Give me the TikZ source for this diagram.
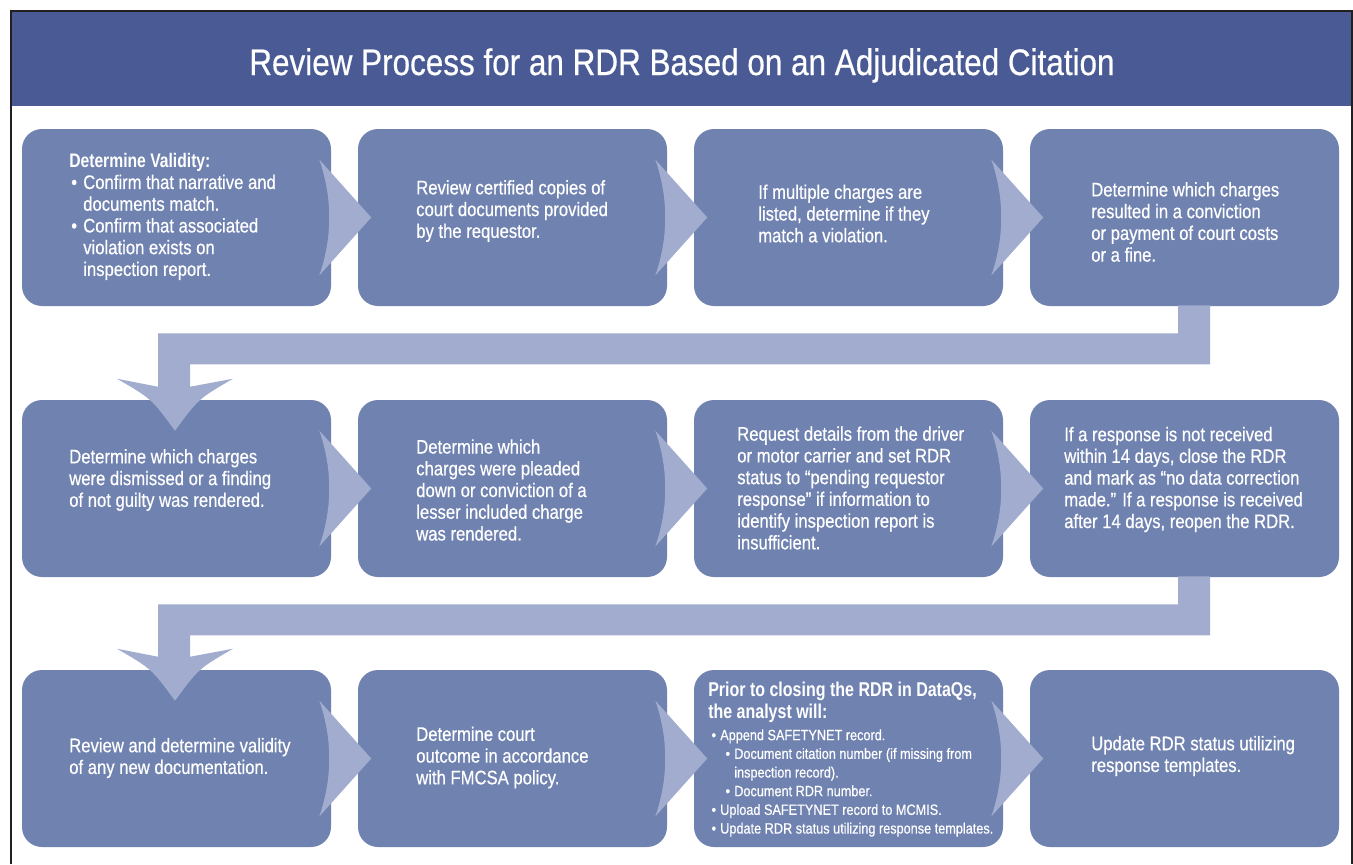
\documentclass[tikz,border=0pt]{standalone}
\usepackage{fontspec}
\setmainfont{Liberation Sans}[FakeStretch=0.85, FakeBold=0.5]
\newfontfamily\headfont{Liberation Sans}[FakeStretch=0.80]
\usetikzlibrary{calc}

\definecolor{barblue}{HTML}{4A5A94}
\definecolor{boxblue}{HTML}{7082B0}
\definecolor{flowblue}{HTML}{A1ACCE}
\definecolor{frameink}{HTML}{231F20}

% chevron pointing from a box into its right-hand neighbour
\newcommand{\flowchevron}[1]{%
  \fill[flowblue] ($(#1.east)+(-12,-58)$) -- ($(#1.east)+(40,0)$) -- ($(#1.east)+(-12,58)$)
    .. controls ($(#1.east)+(1.3,20)$) and ($(#1.east)+(1.3,-20)$) .. ($(#1.east)+(-12,-58)$) -- cycle;}

% elbow connector from the bottom of one box to the top of a box on the next row
\newcommand{\flowdown}[2]{%
  \coordinate (S) at (#1.south);
  \coordinate (T) at (#2.north);
  \coordinate (H) at (T |- S);
  \fill[flowblue] ($(S)+(-6.5,-1)$) -- ($(S)+(25.5,-1)$) -- ($(S)+(25.5,58)$)
    -- ($(H)+(13.5,58)$) -- ($(T)+(13.5,-13)$) -- ($(T)+(56.5,-21)$)
    .. controls ($(T)+(22,-1)$) .. ($(T)+(-1.5,31)$)
    .. controls ($(T)+(-25,-1)$) .. ($(T)+(-59.5,-21)$)
    -- ($(T)+(-18.5,-13)$) -- ($(H)+(-18.5,27)$) -- ($(S)+(-6.5,27)$) -- cycle;}

\begin{document}
\begin{tikzpicture}[x=0.75pt,y=-0.75pt,
  stepbox/.style={fill=boxblue, draw=none, rounded corners=15pt,
    minimum width=231.75pt, minimum height=132.75pt, inner sep=0pt},
  steptext/.style={anchor=west, align=left, text=white, inner sep=0pt,
    font=\fontsize{14.7pt}{16.3pt}\selectfont},
  smalltext/.style={anchor=west, align=left, text=white, inner sep=0pt,
    font=\fontsize{11.2pt}{14pt}\selectfont},
  headtext/.style={anchor=west, align=left, text=white, inner sep=0pt,
    font=\headfont\bfseries\fontsize{15pt}{16.5pt}\selectfont}
]
\useasboundingbox (0,0) rectangle (1353,864);

% title bar and frame
\fill[barblue] (11,11) rectangle (1352,106);
\draw[frameink, line width=1.5pt] (11,864) -- (11,11) -- (1352,11) -- (1352,864);
\node[anchor=base, text=white, inner sep=0pt, font=\fontsize{27.75pt}{30pt}\selectfont]
  (title) at (682,75) {Review Process for an RDR Based on an Adjudicated Citation};

% step boxes
\node[stepbox] (s1)  at (176.5,217.5) {};
\node[stepbox] (s2)  at (512.5,217.5) {};
\node[stepbox] (s3)  at (848.5,217.5) {};
\node[stepbox] (s4)  at (1184.5,217.5) {};
\node[stepbox] (s5)  at (176.5,488.5) {};
\node[stepbox] (s6)  at (512.5,488.5) {};
\node[stepbox] (s7)  at (848.5,488.5) {};
\node[stepbox] (s8)  at (1184.5,488.5) {};
\node[stepbox] (s9)  at (176.5,758.5) {};
\node[stepbox] (s10) at (512.5,758.5) {};
\node[stepbox] (s11) at (848.5,758.5) {};
\node[stepbox] (s12) at (1184.5,758.5) {};

% connectors
\flowchevron{s1}\flowchevron{s2}\flowchevron{s3}
\flowchevron{s5}\flowchevron{s6}\flowchevron{s7}
\flowchevron{s9}\flowchevron{s10}\flowchevron{s11}
\flowdown{s4}{s5}
\flowdown{s8}{s9}

% texts
\node[steptext] (t1) at (69,216.5) {{\headfont\bfseries Determine Validity:}\\
  \hspace*{1.5pt}\makebox[9pt][l]{•}Confirm that narrative and\\
  \hspace*{10.5pt}documents match.\\
  \hspace*{1.5pt}\makebox[9pt][l]{•}Confirm that associated\\
  \hspace*{10.5pt}violation exists on\\
  \hspace*{10.5pt}inspection report.};
\node[steptext] (t2) at (416,211) {Review certified copies of\\court documents provided\\by the requestor.};
\node[steptext] (t3) at (758,213.5) {If multiple charges are\\listed, determine if they\\match a violation.};
\node[steptext] (t4) at (1091,222) {Determine which charges\\resulted in a conviction\\or payment of court costs\\or a fine.};
\node[steptext] (t5) at (69,480) {Determine which charges\\were dismissed or a finding\\of not guilty was rendered.};
\node[steptext] (t6) at (416,490) {Determine which\\charges were pleaded\\down or conviction of a\\lesser included charge\\was rendered.};
\node[steptext] (t7) at (737,488) {Request details from the driver\\or motor carrier and set RDR\\status to “pending requestor\\response” if information to\\identify inspection report is\\insufficient.};
\node[steptext] (t8) at (1064,479.5) {If a response is not received\\within 14 days, close the RDR\\and mark as “no data correction\\made.” If a response is received\\after 14 days, reopen the RDR.};
\node[steptext] (t9) at (69,758) {Review and determine validity\\of any new documentation.};
\node[steptext] (t10) at (416,757.5) {Determine court\\outcome in accordance\\with FMCSA policy.};
\node[headtext] (t11h) at (708,702) {Prior to closing the RDR in DataQs,\\the analyst will:};
\node[smalltext] (t11) at (708,783) {%
  \hspace*{2.5pt}\makebox[6.5pt][l]{•}Append SAFETYNET record.\\
  \hspace*{13pt}\makebox[6.5pt][l]{•}Document citation number (if missing from\\
  \hspace*{19.5pt}inspection record).\\
  \hspace*{13pt}\makebox[6.5pt][l]{•}Document RDR number.\\
  \hspace*{2.5pt}\makebox[6.5pt][l]{•}Upload SAFETYNET record to MCMIS.\\
  \hspace*{2.5pt}\makebox[6.5pt][l]{•}Update RDR status utilizing response templates.};
\node[steptext] (t12) at (1091,756) {Update RDR status utilizing\\response templates.};
\end{tikzpicture}
\end{document}
